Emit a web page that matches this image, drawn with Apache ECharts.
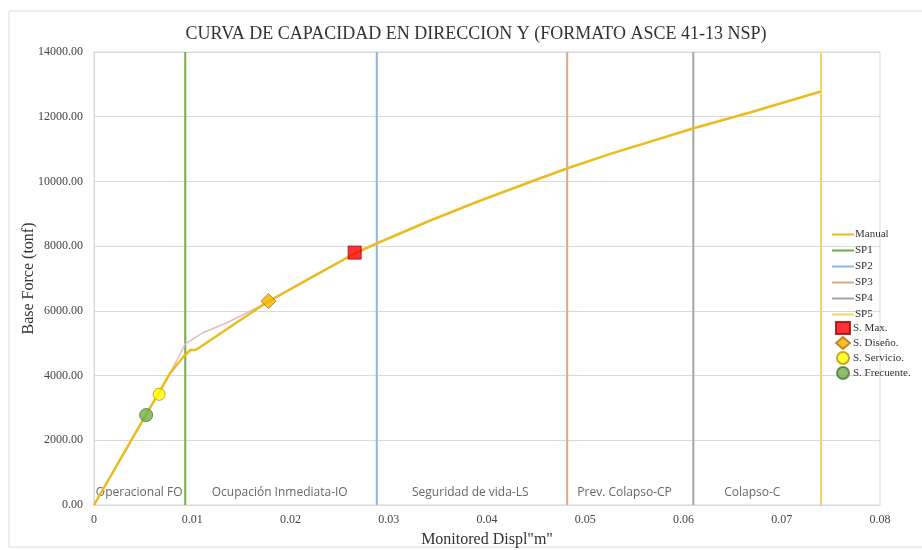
<!DOCTYPE html>
<html>
<head>
<meta charset="utf-8">
<script src="https://cdn.jsdelivr.net/npm/echarts@6/dist/echarts.min.js"></script>
<style>html,body{margin:0;padding:0;background:#fff}#c{width:922px;height:550px}</style>
</head>
<body>
<div id="c"></div>
<script>
// ---- data ----
var titleText = 'CURVA DE CAPACIDAD EN DIRECCION Y (FORMATO ASCE 41-13 NSP)';
var xName = 'Monitored Displ"m"';
var yName = 'Base Force (tonf)';

// Manual capacity curve [displacement m, base force tonf]
var manualX = [0, 0.00531, 0.00663, 0.00776, 0.00908, 0.00980, 0.01031, 0.01082, 0.01490, 0.01765, 0.02200, 0.02663, 0.02888, 0.03429, 0.03908, 0.04418, 0.04827, 0.05265, 0.06112, 0.06694, 0.07398];
var manualY = [0, 2800, 3480, 4080, 4574, 4790, 4790, 4883, 5717, 6274, 7010, 7788, 8097, 8800, 9380, 9960, 10415, 10860, 11651, 12146, 12780];

// secondary (pink) curve
var altX = [0, 0.00776, 0.00929, 0.01102, 0.01347, 0.01653, 0.01765, 0.02663];
var altY = [0, 4080, 4976, 5315, 5624, 6088, 6274, 7788];

// performance limits (vertical lines)
var spNames = ['SP1', 'SP2', 'SP3', 'SP4', 'SP5'];
var spX = [0.00929, 0.02878, 0.04816, 0.06100, 0.07400];
var spTop = 14000;

// performance points
var ptNames = ['S. Max.', 'S. Diseño.', 'S. Servicio.', 'S. Frecuente.'];
var ptX = [0.02653, 0.01776, 0.00663, 0.00531];
var ptY = [7800, 6300, 3420, 2780];

// zone labels
var zoneNames = ['Operacional FO', 'Ocupación Inmediata-IO', 'Seguridad de vida-LS', 'Prev. Colapso-CP', 'Colapso-C'];
var zoneX = [0.00460, 0.01890, 0.03830, 0.05400, 0.06700];
var zoneY = 370;

var xTicks = [0, 0.01, 0.02, 0.03, 0.04, 0.05, 0.06, 0.07, 0.08];
var yTicks = [0, 2000, 4000, 6000, 8000, 10000, 12000, 14000];

// ---- styles ----
var serif = '"Liberation Serif", "DejaVu Serif", serif';
var spColors = ['#70ad47', '#8db4e2', '#dea88a', '#a5a5a5', '#f5d26a'];
var ptStyles = [
  {symbol: 'rect', size: 13, color: '#ff0000', border: '#a00000'},
  {symbol: 'diamond', size: 15, color: '#f2b200', border: '#b07000'},
  {symbol: 'circle', size: 12, color: '#ffff00', border: '#c09000'},
  {symbol: 'circle', size: 13, color: '#70ad47', border: '#4a7a30'}
];
var noSym = {color: 'rgba(0,0,0,0)', borderWidth: 0, borderColor: 'rgba(0,0,0,0)'};

function zip(a, b) { return a.map(function (v, i) { return [v, b[i]]; }); }

var series = [];
series.push({
  name: 'alt', type: 'line', data: zip(altX, altY), symbol: 'none', silent: true,
  lineStyle: {color: '#e2b9cc', width: 1.5}, z: 2
});
series.push({
  name: 'Manual', type: 'line', data: zip(manualX, manualY), symbol: 'none',
  lineStyle: {color: '#ecbb1c', width: 2.5}, itemStyle: noSym, z: 3
});
spNames.forEach(function (n, i) {
  series.push({
    name: n, type: 'line', data: [[spX[i], 0], [spX[i], spTop]], symbol: 'none',
    lineStyle: {color: spColors[i], width: 2}, itemStyle: noSym, z: 1
  });
});
ptNames.forEach(function (n, i) {
  var s = ptStyles[i];
  series.push({
    name: n, type: 'scatter', data: [[ptX[i], ptY[i]]], symbol: s.symbol, symbolSize: s.size,
    itemStyle: {color: s.color, borderColor: s.border, borderWidth: 1}, z: 5
  });
});
series.push({
  name: 'zones', type: 'scatter', silent: true, symbolSize: 0,
  data: zoneX.map(function (x, i) { return {value: [x, zoneY], name: zoneNames[i]}; }),
  label: {show: true, position: 'inside', formatter: '{b}', color: '#404040',
    fontFamily: '"Open Sans", "Liberation Sans", sans-serif', fontSize: 12}
});

var chart = echarts.init(document.getElementById('c'), null, {renderer: 'canvas'});
chart.setOption({
  animation: false,
  backgroundColor: '#fff',
  graphic: [{type: 'rect', shape: {x: 9, y: 11, width: 930, height: 536},
    style: {fill: 'none', stroke: '#d9d9d9', lineWidth: 1}, silent: true, z: -10}],
  title: {text: titleText, left: 471, top: 20, textAlign: 'center',
    textStyle: {fontFamily: serif, fontSize: 18, fontWeight: 'normal', color: '#333'}},
  legend: [{
    orient: 'vertical', left: 826, top: 224, itemGap: 5, itemWidth: 22, itemHeight: 11,
    data: ['Manual'].concat(spNames),
    textStyle: {fontFamily: serif, fontSize: 11, color: '#333', padding: [0, 0, 0, -4]}
  }, {
    orient: 'vertical', left: 830, top: 316, itemGap: 1, itemWidth: 14, itemHeight: 12,
    data: ptNames,
    textStyle: {fontFamily: serif, fontSize: 11, color: '#333', padding: [0, 0, 0, -2]}
  }],
  grid: {left: 94, right: 42, top: 52, bottom: 45, show: true, borderColor: '#d9d9d9', borderWidth: 1,
    outerBoundsMode: 'none', containLabel: false},
  xAxis: {
    type: 'value', min: 0, max: 0.08, interval: 0.01,
    name: xName, nameLocation: 'middle', nameGap: 27,
    nameTextStyle: {fontFamily: serif, fontSize: 16, color: '#333'},
    axisLine: {show: true, lineStyle: {color: '#d9d9d9'}}, axisTick: {show: false},
    splitLine: {show: false},
    axisLabel: {fontFamily: serif, fontSize: 12, color: '#444', margin: 9,
      formatter: function (v) { return xTicks.indexOf(Math.round(v * 100) / 100) >= 0 ? String(Math.round(v * 100) / 100) : ''; }}
  },
  yAxis: {
    type: 'value', min: 0, max: 14000, interval: 2000,
    name: yName, nameLocation: 'middle', nameGap: 57, nameRotate: 90, nameMoveOverlap: false,
    nameTextStyle: {fontFamily: serif, fontSize: 16, color: '#333'},
    axisLine: {show: true, lineStyle: {color: '#d9d9d9'}}, axisTick: {show: false},
    splitLine: {show: true, lineStyle: {color: '#d9d9d9'}},
    axisLabel: {fontFamily: serif, fontSize: 12, color: '#444', margin: 11,
      formatter: function (v) { return yTicks.indexOf(v) >= 0 ? v.toFixed(2) : ''; }}
  },
  series: series
});
</script>
</body>
</html>
